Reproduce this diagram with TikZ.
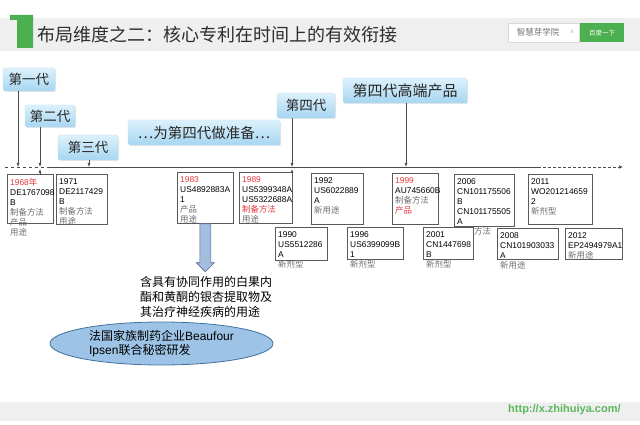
\documentclass[tikz,border=0pt]{standalone}
\usepackage{fontspec}
\setmainfont{Liberation Sans}
\newfontfamily\cjk{Noto Sans CJK SC}
\usetikzlibrary{arrows.meta,shapes.geometric,shadows}

\definecolor{bandgray}{HTML}{EFEFEF}
\definecolor{brandgreen}{HTML}{4CAF50}
\definecolor{urlgreen}{HTML}{5CB85C}
\definecolor{titleclr}{HTML}{2E2E2E}
\definecolor{boxline}{HTML}{5A5A5A}
\definecolor{lineclr}{HTML}{4A4A4A}
\definecolor{yearred}{HTML}{E5383B}
\definecolor{notegray}{HTML}{6E6E6E}
\definecolor{labeltop}{HTML}{DDF1FC}
\definecolor{labelbot}{HTML}{A6D6F1}
\definecolor{labeledge}{HTML}{B8DDF2}
\definecolor{arrowblue}{HTML}{A4BEDF}
\definecolor{arrowedge}{HTML}{55698A}
\definecolor{ellfill}{HTML}{9DC3E6}
\definecolor{elledge}{HTML}{41719C}

\newcommand{\cnote}[1]{\textcolor{notegray}{\cjk #1}}
\newcommand{\redtext}[1]{\textcolor{yearred}{#1}}

\tikzset{
  patent/.style={draw=boxline, fill=white, line width=0.7pt, anchor=north west, inner sep=0pt},
  patent text/.style={anchor=north west, align=left, inner xsep=3pt, inner ysep=0pt, yshift=-4pt,
    font=\fontsize{8.4}{10}\selectfont},
  gen label/.style={rounded corners=1.5pt, top color=labeltop, bottom color=labelbot, draw=labeledge,
    line width=0.3pt, inner sep=0pt, text=black!85, font=\cjk\fontsize{13.5}{15}\selectfont,
    drop shadow={opacity=0.2, shadow xshift=1pt, shadow yshift=-1pt}},
  gen arrow/.style={draw=lineclr, line width=0.6pt, -{Latex[length=4pt,width=3pt]}},
  timeline/.style={draw=lineclr, line width=0.7pt},
  big arrow/.style={draw=arrowedge, fill=arrowblue, line width=0.6pt},
}

\begin{document}
\begin{tikzpicture}[x=1pt, y=-1pt]
\useasboundingbox (0,0) rectangle (640,425);
% header
\fill[bandgray] (0,18) rectangle (640,51);
\fill[brandgreen] (10,15) -- (33,15) -- (33,48) -- (17,48) -- (17,20) -- (10,20) -- cycle;
\node[anchor=west, inner sep=0pt, text=titleclr, font=\cjk\fontsize{18}{20}\selectfont] (title) at (37,35) {布局维度之二：核心专利在时间上的有效衔接};
\node[draw=gray!30, fill=white, minimum width=71, minimum height=19, inner sep=0pt, anchor=north west] (search box) at (508,23) {};
\node[text=gray!90!black, font=\cjk\fontsize{8.5}{10}\selectfont] (search text) at (538,32.5) {智慧芽学院};
\node[text=gray!50, font=\fontsize{8}{10}\selectfont] (search x) at (572,32.5) {×};
\node[fill=brandgreen, text=white, minimum width=44, minimum height=19, inner sep=0pt, anchor=north west, font=\cjk\fontsize{6.5}{8}\selectfont] (search button) at (580,23) {百度一下};

% footer
\fill[bandgray] (0,402) rectangle (640,421);
\node[anchor=west, inner sep=0pt, text=urlgreen, font=\bfseries\fontsize{11}{13}\selectfont] (url) at (508,410) {http://x.zhihuiya.com/};

% time line
\coordinate (line start) at (5,167);
\coordinate (dash left) at (48,167);
\coordinate (dash right) at (538,167);
\coordinate (line end) at (623,167);
\draw[timeline, dashed] (line start) -- (dash left);
\draw[timeline] (dash left) -- (dash right);
\draw[timeline, densely dashed, -{Latex[length=4pt,width=3.5pt]}] (dash right) -- (line end);

% generations
\node[gen label, minimum width=52, minimum height=23] (Gen 1) at (29,79.5) {第一代};
\node[gen label, minimum width=50, minimum height=22] (Gen 2) at (50,116) {第二代};
\node[gen label, minimum width=60, minimum height=25] (Gen 3) at (88,147.5) {第三代};
\node[gen label, minimum width=152, minimum height=25, font=\cjk\fontsize{14.5}{16}\selectfont] (Gen prep) at (204,132.5) {…为第四代做准备…};
\node[gen label, minimum width=58, minimum height=25] (Gen 4) at (306,105.5) {第四代};
\node[gen label, minimum width=124, minimum height=25, font=\cjk\fontsize{15}{17}\selectfont] (Gen 4 high) at (405,90.5) {第四代高端产品};

\coordinate (G1) at (18,167);
\coordinate (G2) at (40,167);
\coordinate (G3) at (89,167);
\coordinate (G4) at (292,167);
\coordinate (G5) at (406,167);
\draw[gen arrow] (Gen 1.south -| G1) -- (G1);
\draw[gen arrow] (Gen 2.south -| G2) -- (G2);
\draw[gen arrow] (Gen 3.south -| G3) -- (G3);
\draw[gen arrow] (Gen 4.south -| G4) -- (G4);
\draw[gen arrow] (Gen 4 high.south -| G5) -- (G5);

% patents, upper row
\node[patent, minimum width=46, minimum height=49] (P 1968) at (7,174) {};
\node[patent text] (T 1968) at (P 1968.north west) {\redtext{1968{\cjk 年}}\\DE1767098\\B\\\cnote{制备方法}\\\cnote{产品}\\\cnote{用途}};
\node[patent, minimum width=51, minimum height=50] (P 1971) at (56,174) {};
\node[patent text] (T 1971) at (P 1971.north west) {1971\\DE2117429\\B\\\cnote{制备方法}\\\cnote{用途}};
\node[patent, minimum width=56, minimum height=51] (P 1983) at (177,172) {};
\node[patent text] (T 1983) at (P 1983.north west) {\redtext{1983}\\US4892883A\\1\\\cnote{产品}\\\cnote{用途}};
\node[patent, minimum width=53, minimum height=51] (P 1989) at (239,172) {};
\node[patent text] (T 1989) at (P 1989.north west) {\redtext{1989}\\US5399348A\\US5322688A\\\redtext{\cjk 制备方法}\\\cnote{用途}};
\node[patent, minimum width=52, minimum height=51] (P 1992) at (311,173) {};
\node[patent text] (T 1992) at (P 1992.north west) {1992\\US6022889\\A\\\cnote{新用途}};
\node[patent, minimum width=46, minimum height=51] (P 1999) at (392,173) {};
\node[patent text] (T 1999) at (P 1999.north west) {\redtext{1999}\\AU745660B\\\cnote{制备方法}\\\redtext{\cjk 产品}};
\node[patent, minimum width=60, minimum height=52] (P 2006) at (454,174) {};
\node[patent text] (T 2006) at (P 2006.north west) {2006\\CN101175506\\B\\CN101175505\\A\\\cnote{制备方法}};
\node[patent, minimum width=64, minimum height=50] (P 2011) at (528,174) {};
\node[patent text] (T 2011) at (P 2011.north west) {2011\\WO201214659\\2\\\cnote{新剂型}};

% patents, lower row
\node[patent, minimum width=52, minimum height=33] (P 1990) at (275,227) {};
\node[patent text] (T 1990) at (P 1990.north west) {1990\\US5512286\\A\\\cnote{新剂型}};
\node[patent, minimum width=56, minimum height=32] (P 1996) at (347,227) {};
\node[patent text] (T 1996) at (P 1996.north west) {1996\\US6399099B\\1\\\cnote{新剂型}};
\node[patent, minimum width=50, minimum height=32] (P 2001) at (423,227) {};
\node[patent text] (T 2001) at (P 2001.north west) {2001\\CN1447698\\B\\\cnote{新剂型}};
\node[patent, minimum width=61, minimum height=31] (P 2008) at (497,228) {};
\node[patent text] (T 2008) at (P 2008.north west) {2008\\CN101903033\\A\\\cnote{新用途}};
\node[patent, minimum width=57, minimum height=31] (P 2012) at (565,228) {};
\node[patent text] (T 2012) at (P 2012.north west) {2012\\EP2494979A1\\\cnote{新用途}};

\draw[gen arrow, shorten >=2pt] (P 1968.north -| G2) -- (G2);
\draw[gen arrow, shorten >=2pt] (P 1989.north -| G4) -- (G4);

% use of the 1983 patent
\draw[big arrow] ([xshift=-5.5pt]P 1983.south) -- ++(0,39) -- ++(-3.5,0) -- ++(9,9) -- ++(9,-9) -- ++(-3.5,0) -- ([xshift=5.5pt]P 1983.south) -- cycle;
\node[anchor=north west, align=left, inner sep=0pt, font=\cjk\fontsize{12}{15}\selectfont] (use text) at (140,276) {含具有协同作用的白果内\\酯和黄酮的银杏提取物及\\其治疗神经疾病的用途};
\node[ellipse, draw=elledge, fill=ellfill, line width=0.8pt, minimum width=223, minimum height=43, inner sep=0pt, align=left, font=\fontsize{12}{14}\selectfont] (partner) at (161.5,343.5) {{\cjk 法国家族制药企业}Beaufour\\Ipsen{\cjk 联合秘密研发}};
\end{tikzpicture}
\end{document}
